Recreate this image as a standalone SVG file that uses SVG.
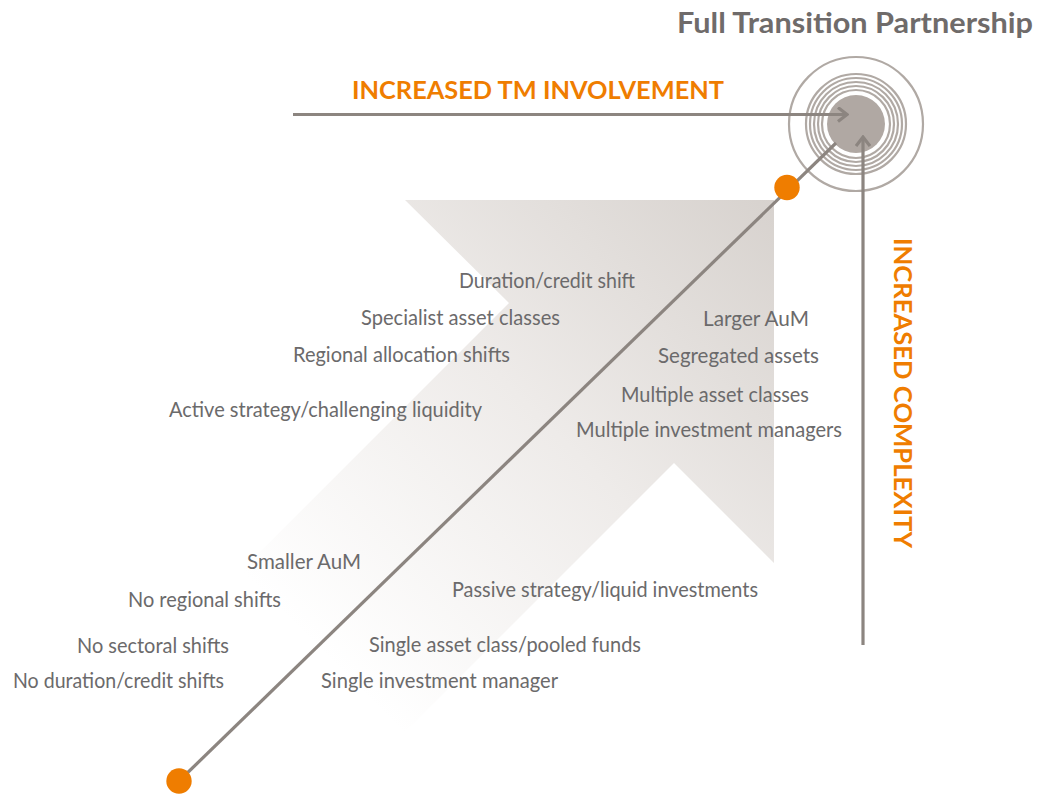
<svg xmlns="http://www.w3.org/2000/svg" width="1037" height="796" viewBox="0 0 1037 796">
  <defs>
    <linearGradient id="arrowFill" gradientUnits="userSpaceOnUse" x1="774" y1="200" x2="320" y2="650">
      <stop offset="0" stop-color="#d7d2ce"/>
      <stop offset="0.5" stop-color="#eeebe9"/>
      <stop offset="1" stop-color="#ffffff"/>
    </linearGradient>
    <marker id="chev" viewBox="0 0 12 16" refX="10" refY="8" markerWidth="12" markerHeight="16" markerUnits="userSpaceOnUse" orient="auto">
      <path d="M1,1 L10,8 L1,15" fill="none" stroke="#8c8580" stroke-width="3.2"/>
    </marker>
    <style>
      .lbl { font-family: Lato, "Open Sans", "Liberation Sans", sans-serif; font-size: 20.5px; fill: #6b6a6b; }
      .ttl { font-family: Lato, "Open Sans", "Liberation Sans", sans-serif; font-weight: bold; }
      .orange { fill: #ef7d00; }
      .ring { fill: none; stroke: #b0a9a4; stroke-width: 2.2; }
      .conn { fill: none; stroke: #8c8580; stroke-width: 3.2; }
    </style>
  </defs>
  <rect width="1037" height="796" fill="#ffffff"/>

  <g id="big-arrow">
    <polygon points="405,200 774,200 774,563 674,463 274,863 109,703 509,303" fill="url(#arrowFill)"/>
  </g>

  <g id="target">
    <circle cx="856" cy="124" r="67" class="ring"/>
    <circle cx="856" cy="124" r="50" class="ring"/>
    <circle cx="856" cy="124" r="46" class="ring"/>
    <circle cx="856" cy="124" r="42" class="ring"/>
    <circle cx="856" cy="124" r="38" class="ring"/>
    <circle cx="856" cy="124" r="34" class="ring"/>
    <circle cx="856" cy="124" r="29" fill="#b0a8a3"/>
  </g>

  <g id="connectors">
    <line x1="293" y1="114.5" x2="847" y2="114.5" class="conn" marker-end="url(#chev)"/>
    <line x1="863" y1="645" x2="863" y2="137" class="conn" marker-end="url(#chev)"/>
    <line x1="179" y1="781" x2="836" y2="143" class="conn"/>
  </g>

  <g id="dot-start"><circle cx="179" cy="781" r="12.7" fill="#ef7d00"/></g>
  <g id="dot-end"><circle cx="787" cy="187.5" r="12.7" fill="#ef7d00"/></g>

  <g id="title">
    <text class="ttl" x="1033" y="33" text-anchor="end" font-size="28.5" fill="#6f6b6a" textLength="356" lengthAdjust="spacingAndGlyphs">Full Transition Partnership</text>
  </g>
  <g id="axis-x">
    <text class="ttl orange" x="352" y="98.5" font-size="25" textLength="372" lengthAdjust="spacingAndGlyphs">INCREASED TM INVOLVEMENT</text>
  </g>
  <g id="axis-y">
    <text class="ttl orange" transform="translate(894,238) rotate(90)" x="0" y="0" font-size="25" textLength="310" lengthAdjust="spacingAndGlyphs">INCREASED COMPLEXITY</text>
  </g>

  <g id="labels-upper-left">
    <text class="lbl" x="459" y="287.5" textLength="176" lengthAdjust="spacingAndGlyphs">Duration/credit shift</text>
    <text class="lbl" x="361" y="325" textLength="199" lengthAdjust="spacingAndGlyphs">Specialist asset classes</text>
    <text class="lbl" x="293" y="361.7" textLength="217" lengthAdjust="spacingAndGlyphs">Regional allocation shifts</text>
    <text class="lbl" x="169" y="417" textLength="313" lengthAdjust="spacingAndGlyphs">Active strategy/challenging liquidity</text>
  </g>
  <g id="labels-upper-right">
    <text class="lbl" x="703" y="325.5" textLength="106" lengthAdjust="spacingAndGlyphs">Larger AuM</text>
    <text class="lbl" x="658" y="362.5" textLength="161" lengthAdjust="spacingAndGlyphs">Segregated assets</text>
    <text class="lbl" x="621" y="401.5" textLength="188" lengthAdjust="spacingAndGlyphs">Multiple asset classes</text>
    <text class="lbl" x="576" y="436.7" textLength="266" lengthAdjust="spacingAndGlyphs">Multiple investment managers</text>
  </g>
  <g id="labels-lower-left">
    <text class="lbl" x="247" y="569.3" textLength="114" lengthAdjust="spacingAndGlyphs">Smaller AuM</text>
    <text class="lbl" x="128" y="606.7" textLength="153" lengthAdjust="spacingAndGlyphs">No regional shifts</text>
    <text class="lbl" x="77" y="653.3" textLength="152" lengthAdjust="spacingAndGlyphs">No sectoral shifts</text>
    <text class="lbl" x="13" y="688.3" textLength="211" lengthAdjust="spacingAndGlyphs">No duration/credit shifts</text>
  </g>
  <g id="labels-lower-right">
    <text class="lbl" x="452" y="596.7" textLength="306" lengthAdjust="spacingAndGlyphs">Passive strategy/liquid investments</text>
    <text class="lbl" x="369" y="651.7" textLength="272" lengthAdjust="spacingAndGlyphs">Single asset class/pooled funds</text>
    <text class="lbl" x="321" y="688.3" textLength="237" lengthAdjust="spacingAndGlyphs">Single investment manager</text>
  </g>
</svg>
